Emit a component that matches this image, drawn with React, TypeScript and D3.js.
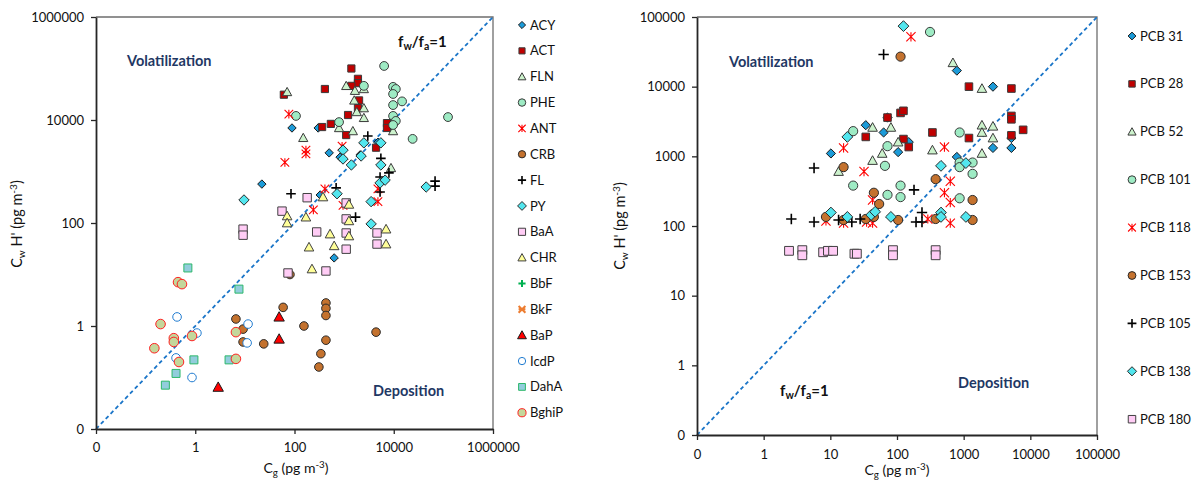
import React, { useEffect, useRef } from 'react';
import * as d3 from 'd3';

// ---- left panel (PAHs): [Cg, Cw H'] pairs, pg m-3 ----
const ACY = [[22, 570], [89, 7000], [300, 7000], [500, 2300], [2100, 2100], [830, 1900], [330, 350], [630, 21], [4800, 3700]];
const ACT = [[61, 31000], [410, 40000], [1400, 100000], [1900, 63000], [1900, 52000], [1400, 46000], [2000, 24000], [1900, 17000], [1200, 12500], [540, 8400], [360, 7300], [1100, 5100], [7300, 8700], [7300, 7000], [4400, 2900]];
const FLN = [[71, 35000], [1100, 46000], [1650, 37000], [2500, 40000], [1600, 24000], [2500, 17000], [1800, 14300], [2500, 11000], [790, 7000], [1500, 6100], [150, 4500], [8800, 1170], [9700, 6100]];
const PHE = [[107, 12000], [790, 9100], [2500, 46000], [6400, 112000], [9700, 44000], [11000, 40000], [9700, 32000], [14700, 23000], [9700, 19500], [9700, 12000], [11000, 9600], [9700, 8000], [24000, 4300], [124000, 11400]];
const ANT = [[77, 13000], [170, 2600], [170, 2200], [64, 1500], [910, 3100], [410, 460], [240, 180], [950, 220], [4800, 260], [4800, 460]];
const CRB = [[6.6, 1.37], [9.2, 0.87], [9.2, 0.49], [24, 0.45], [59, 2.3], [81, 10], [155, 1.0], [430, 2.8], [430, 2.2], [430, 1.6], [430, 0.53], [340, 0.29], [310, 0.16], [4400, 0.76]];
const FL = [[85, 370], [3000, 4900], [5500, 1800], [5300, 780], [8000, 940], [5300, 400], [68000, 650], [68000, 520], [690, 480], [1700, 130]];
const PY = [[9.6, 280], [2500, 3600], [5500, 3600], [950, 2600], [950, 1750], [1400, 1340], [2200, 2000], [5500, 1340], [5300, 600], [6700, 680], [45000, 500], [720, 370], [3500, 260], [3500, 96]];
const BaA = [[9.2, 76], [9.2, 58], [56, 170], [180, 310], [280, 67], [1100, 245], [1100, 120], [1100, 64], [1100, 31], [4600, 64], [4600, 39], [74, 10.7], [430, 11.7]];
const CHR = [[71, 137], [71, 100], [170, 130], [375, 320], [1250, 230], [1250, 110], [520, 61], [1250, 56], [196, 34], [630, 36], [225, 12.8], [7000, 76], [7000, 39]];
const BbF: number[][] = [];
const BkF: number[][] = [];
const BaP = [[2.9, 0.065], [49, 1.5], [49, 0.56]];
const IcdP = [[0.43, 1.5], [1.08, 0.73], [0.41, 0.24], [0.86, 0.1], [11.6, 1.09], [11.1, 0.47]];
const DahA = [[0.71, 13.4], [7.6, 5.2], [0.25, 0.071], [0.41, 0.12], [0.94, 0.22], [4.8, 0.22]];
const BghiP = [[0.45, 7.1], [0.54, 6.5], [0.2, 1.09], [0.15, 0.37], [0.37, 0.58], [0.37, 0.49], [0.86, 0.64], [0.47, 0.2], [6.6, 0.76], [6.6, 0.23]];

// ---- right panel (PCBs) ----
const PCB31 = [[10.2, 1100], [34, 2800], [63, 2200], [72, 3600], [104, 1150], [150, 1600], [790, 17000], [2750, 10000], [2750, 1320], [5200, 1320], [5200, 1830], [790, 980]];
const PCB28 = [[34, 1900], [72, 3600], [113, 4200], [125, 4500], [125, 1770], [150, 1360], [340, 2200], [1200, 1830], [1200, 10000], [5200, 9400], [5200, 3800], [5200, 3400], [5200, 2000], [7800, 2400]];
const PCB52 = [[13.3, 605], [43, 870], [43, 2600], [81, 2600], [60, 1100], [104, 1600], [340, 1230], [690, 22000], [1880, 9400], [1880, 2800], [1880, 2200], [2750, 2700], [2750, 1830], [1880, 1100]];
const PCB101 = [[22, 2300], [66, 730], [72, 1400], [22, 380], [72, 280], [113, 380], [113, 260], [313, 61000], [870, 2200], [870, 815], [870, 700], [1360, 815], [1360, 560], [870, 250]];
const PCB118 = [[15.8, 1320], [32, 605], [43, 236], [162, 52000], [515, 1360], [630, 440], [515, 300], [630, 217], [630, 110], [290, 126], [8.6, 118], [15.8, 110], [35, 114], [43, 110]];
const PCB153 = [[15.8, 700], [113, 27000], [45, 300], [54, 207], [8.6, 135], [15.8, 122], [34, 126], [45, 135], [104, 122], [380, 470], [1360, 236], [1360, 122], [380, 126]];
const PCB105 = [[2.6, 126], [5.7, 680], [5.7, 114], [13.3, 122], [21, 114], [28, 126], [63, 29000], [180, 330], [237, 156], [193, 114], [237, 114]];
const PCB138 = [[10.2, 156], [18, 135], [18, 1900], [41, 144], [47, 160], [81, 135], [125, 74000], [457, 730], [1080, 800], [457, 156], [457, 135], [1080, 135]];
const PCB180 = [[2.4, 44], [3.8, 45], [3.8, 38], [7.8, 42], [9.2, 44], [11, 44], [23, 40], [25, 40], [87, 45], [87, 38], [380, 45], [380, 38]];

const leftTicks = [0.01, 1, 100, 10000, 1000000];
const leftTickLabels = ['0', '1', '100', '10000', '1000000'];
const rightTicks = [0.1, 1, 10, 100, 1000, 10000, 100000];
const rightTickLabels = ['0', '1', '10', '100', '1000', '10000', '100000'];

const FONT = 'Lato, "Open Sans", sans-serif';

const shapePath = (shape, s) => {
  switch (shape) {
    case 'diamond': return `M0,${-s}L${s},0L0,${s}L${-s},0Z`;
    case 'square': return `M${-s},${-s}H${s}V${s}H${-s}Z`;
    case 'triangle': return `M0,${-s}L${s},${s * 0.8}L${-s},${s * 0.8}Z`;
    case 'circle': return `M${s},0A${s},${s} 0 1,1 ${-s},0A${s},${s} 0 1,1 ${s},0Z`;
    case 'plus': return `M${-s},0H${s}M0,${-s}V${s}`;
    case 'star': return `M${-s},${-s}L${s},${s}M${-s},${s}L${s},${-s}M0,${-s}V${s}`;
    case 'xbar': return `M${-s},${-s}L${s},${s}M${-s},${s}L${s},${-s}M${-s},0H${s}`;
    default: return '';
  }
};

const pahSeries = [
  { name: 'ACY', data: ACY, shape: 'diamond', size: 4.2, fill: '#1C9BD8', stroke: '#1a1a1a' },
  { name: 'ACT', data: ACT, shape: 'square', size: 3.6, fill: '#C00000', stroke: '#3a3a3a' },
  { name: 'FLN', data: FLN, shape: 'triangle', size: 4.6, fill: '#CCF2CC', stroke: '#3a3a3a' },
  { name: 'PHE', data: PHE, shape: 'circle', size: 4.4, fill: '#9EEBC4', stroke: '#3a3a3a' },
  { name: 'ANT', data: ANT, shape: 'star', size: 4.3, fill: 'none', stroke: '#FF0000', width: 1.1 },
  { name: 'CRB', data: CRB, shape: 'circle', size: 4.3, fill: '#C4722E', stroke: '#2a2a2a' },
  { name: 'FL', data: FL, shape: 'plus', size: 4.8, fill: 'none', stroke: '#000000', width: 1.6 },
  { name: 'PY', data: PY, shape: 'diamond', size: 5.2, fill: '#52E6EE', stroke: '#2a2a2a' },
  { name: 'BaA', data: BaA, shape: 'square', size: 4.2, fill: '#FFCCF5', stroke: '#404040' },
  { name: 'CHR', data: CHR, shape: 'triangle', size: 4.8, fill: '#FFFF99', stroke: '#404040' },
  { name: 'BbF', data: BbF, shape: 'plus', size: 4.2, fill: 'none', stroke: '#00B050', width: 2 },
  { name: 'BkF', data: BkF, shape: 'xbar', size: 4, fill: 'none', stroke: '#ED7D31', width: 2 },
  { name: 'BaP', data: BaP, shape: 'triangle', size: 5.2, fill: '#FF0000', stroke: '#1a1a1a' },
  { name: 'IcdP', data: IcdP, shape: 'circle', size: 4.3, fill: '#FFFFFF', stroke: '#1F7BD0' },
  { name: 'DahA', data: DahA, shape: 'square', size: 4, fill: '#92CDDC', stroke: '#2DB86A' },
  { name: 'BghiP', data: BghiP, shape: 'circle', size: 4.8, fill: '#C4D79B', stroke: '#FF2020' },
];

const pcbSeries = [
  { name: 'PCB 31', data: PCB31, shape: 'diamond', size: 4.6, fill: '#1C9BD8', stroke: '#1a1a1a' },
  { name: 'PCB 28', data: PCB28, shape: 'square', size: 3.8, fill: '#C00000', stroke: '#3a3a3a' },
  { name: 'PCB 52', data: PCB52, shape: 'triangle', size: 4.8, fill: '#CCF2CC', stroke: '#3a3a3a' },
  { name: 'PCB 101', data: PCB101, shape: 'circle', size: 4.6, fill: '#9EEBC4', stroke: '#3a3a3a' },
  { name: 'PCB 118', data: PCB118, shape: 'star', size: 4.6, fill: 'none', stroke: '#FF0000', width: 1.1 },
  { name: 'PCB 153', data: PCB153, shape: 'circle', size: 4.6, fill: '#C4722E', stroke: '#2a2a2a' },
  { name: 'PCB 105', data: PCB105, shape: 'plus', size: 5.2, fill: 'none', stroke: '#000000', width: 1.6 },
  { name: 'PCB 138', data: PCB138, shape: 'diamond', size: 5.4, fill: '#52E6EE', stroke: '#2a2a2a' },
  { name: 'PCB 180', data: PCB180, shape: 'square', size: 4.4, fill: '#FFCCF5', stroke: '#404040' },
];

const drawMarker = (g, s, size, x, y) => {
  g.append('path')
    .attr('d', shapePath(s.shape, size))
    .attr('transform', `translate(${x},${y})`)
    .attr('fill', s.fill)
    .attr('stroke', s.stroke)
    .attr('stroke-width', s.width || 1);
};

// text with sub/superscripts: parts = [[text, 'sub'|'sup'|null], ...]
const richText = (sel, parts, fs) => {
  let shift = 0;
  parts.forEach(([txt, kind]) => {
    const target = kind === 'sub' ? 3 : kind === 'sup' ? -5 : 0;
    sel.append('tspan')
      .attr('dy', target - shift)
      .attr('font-size', kind ? fs * 0.7 : fs)
      .text(txt);
    shift = target;
  });
};

const drawPanel = (svg, p) => {
  const x = d3.scaleLog().domain(p.domain).range([p.left, p.right]);
  const y = d3.scaleLog().domain(p.domain).range([p.bottom, p.top]);
  const g = svg.append('g');

  // frame: top and right borders
  g.append('path')
    .attr('d', `M${p.left},${p.top}H${p.right}V${p.bottom}`)
    .attr('fill', 'none')
    .attr('stroke', '#6e6e6e')
    .attr('stroke-width', 1.3);

  // 1:1 line
  g.append('line')
    .attr('x1', x(p.domain[0])).attr('y1', y(p.domain[0]))
    .attr('x2', x(p.domain[1])).attr('y2', y(p.domain[1]))
    .attr('stroke', '#1A75C8')
    .attr('stroke-width', 1.8)
    .attr('stroke-dasharray', '4,3');

  const xAxis = g.append('g')
    .attr('transform', `translate(0,${p.bottom})`)
    .call(d3.axisBottom(x).tickValues(p.ticks).tickFormat((d, i) => p.labels[i]).tickSize(5).tickSizeOuter(0).tickPadding(p.xPad));
  const yAxis = g.append('g')
    .attr('transform', `translate(${p.left},0)`)
    .call(d3.axisLeft(y).tickValues(p.ticks).tickFormat((d, i) => p.labels[i]).tickSize(5).tickSizeOuter(0).tickPadding(7));
  [xAxis, yAxis].forEach(a => {
    a.select('.domain').attr('stroke', '#262626').attr('stroke-width', 1.8);
    a.selectAll('.tick line').attr('stroke', '#262626').attr('stroke-width', 1.3);
    a.selectAll('text').attr('font-family', FONT).attr('font-size', 13).attr('fill', '#111');
  });

  // points
  p.series.forEach(s => {
    const sg = g.append('g');
    s.data.forEach(d => drawMarker(sg, s, s.size, x(d[0]), y(d[1])));
  });

  // annotations
  const ann = (tx, ty, parts, color, fs) => {
    const t = g.append('text').attr('x', tx).attr('y', ty)
      .attr('font-family', FONT).attr('font-weight', 'bold').attr('font-size', fs).attr('fill', color);
    richText(t, parts, fs);
  };
  ann(p.vol[0], p.vol[1], [['Volatilization', null]], '#1F3864', 14.5);
  ann(p.dep[0], p.dep[1], [['Deposition', null]], '#1F3864', 14.5);
  ann(p.fw[0], p.fw[1], [['f', null], ['w', 'sub'], ['/f', null], ['a', 'sub'], ['=1', null]], '#111', 15);

  // axis titles
  const xt = g.append('text').attr('x', p.xTitle[0]).attr('y', p.xTitle[1]).attr('text-anchor', 'middle')
    .attr('font-family', FONT).attr('font-size', 14).attr('fill', '#111');
  richText(xt, [['C', null], ['g', 'sub'], [' (pg m', null], ['-3', 'sup'], [')', null]], 14);
  const yt = g.append('text').attr('transform', `translate(${p.yTitle[0]},${p.yTitle[1]}) rotate(-90)`)
    .attr('text-anchor', 'middle').attr('font-family', FONT).attr('font-size', 14.5).attr('fill', '#111');
  richText(yt, [['C', null], ['w', 'sub'], [" H' (pg m", null], ['-3', 'sup'], [')', null]], 14.5);

  // legend
  const lg = g.append('g');
  p.series.forEach((s, i) => {
    const ly = p.legend.y0 + i * p.legend.step;
    drawMarker(lg, s, s.size * 0.85, p.legend.x, ly);
    lg.append('text').attr('x', p.legend.x + 8).attr('y', ly).attr('dy', '0.35em')
      .attr('font-family', FONT).attr('font-size', 13).attr('fill', '#111').text(s.name);
  });
};

const App = () => {
  const ref = useRef(null);

  useEffect(() => {
    const svg = d3.select(ref.current);
    svg.selectAll('*').remove();
    svg.append('rect').attr('width', 1192).attr('height', 488).attr('fill', '#fff');

    drawPanel(svg, {
      domain: [0.01, 1000000], left: 96, right: 493, top: 17, bottom: 429,
      ticks: leftTicks, labels: leftTickLabels, xPad: 9, series: pahSeries,
      vol: [127, 66], dep: [373, 396], fw: [398, 47],
      xTitle: [296, 473], yTitle: [22, 224],
      legend: { x: 522, y0: 25, step: 25.85 },
    });
    drawPanel(svg, {
      domain: [0.1, 100000], left: 697, right: 1097, top: 17, bottom: 435,
      ticks: rightTicks, labels: rightTickLabels, xPad: 10, series: pcbSeries,
      vol: [729, 67], dep: [958, 388], fw: [780, 396],
      xTitle: [897, 475], yTitle: [625, 226],
      legend: { x: 1132, y0: 36, step: 47.9 },
    });
  }, []);

  return (
    <svg ref={ref} width={1192} height={488}
      style={{ position: 'absolute', left: 0, top: 0, display: 'block' }} />
  );
};

export default App;
